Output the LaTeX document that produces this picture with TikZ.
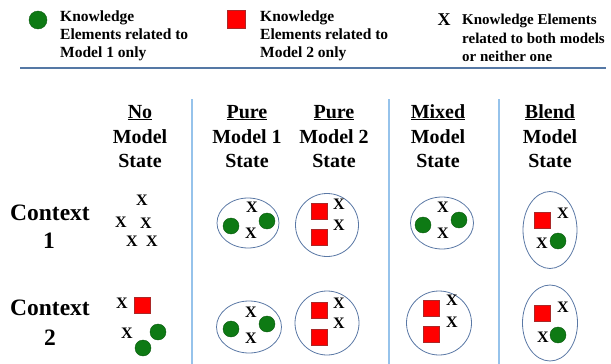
\documentclass[tikz,border=0pt]{standalone}
\usepackage{fontspec}
\setmainfont{Liberation Serif}
\usetikzlibrary{shapes.geometric}
\definecolor{kgreen}{RGB}{14,122,20}
\definecolor{kgreendk}{RGB}{10,90,15}
\definecolor{kred}{RGB}{255,0,0}
\definecolor{kreddk}{RGB}{170,40,40}
\definecolor{blobcol}{RGB}{90,120,165}
\definecolor{vline}{RGB}{150,195,235}
\definecolor{hline}{RGB}{85,120,165}
\begin{document}
\begin{tikzpicture}[x=1pt,y=-1pt,
  gdot/.style={circle,fill=kgreen,draw=kgreendk,line width=0.4pt,minimum size=16pt,inner sep=0},
  rsq/.style={rectangle,fill=kred,draw=kreddk,line width=0.4pt,minimum size=16pt,inner sep=0},
  xm/.style={font=\fontsize{16}{16}\selectfont\bfseries,inner sep=0},
  blob/.style={ellipse,draw=blobcol,line width=0.8pt,inner sep=0},
  hd/.style={font=\fontsize{20}{24}\selectfont\bfseries,anchor=base,inner sep=0},
  ctx/.style={font=\fontsize{23.5}{28}\selectfont\bfseries,anchor=base,inner sep=0},
  lg/.style={font=\fontsize{15.5}{18}\selectfont\bfseries,anchor=base west,inner sep=0},
  lgr/.style={font=\fontsize{15}{18}\selectfont\bfseries,anchor=base west,inner sep=0}]
\useasboundingbox (0,0) rectangle (611,364);

% legend
\node[gdot,minimum size=18pt] (lgc) at (38,20) {};
\node[lg] (lg1a) at (60,21.5) {Knowledge};
\node[lg] (lg1b) at (60,39.5) {Elements related to};
\node[lg] (lg1c) at (60,57.5) {Model 1 only};
\node[rsq,minimum size=18pt] (lgs) at (236,19) {};
\node[lg] (lg2a) at (260,21.5) {Knowledge};
\node[lg] (lg2b) at (260,39.5) {Elements related to};
\node[lg] (lg2c) at (260,57.5) {Model 2 only};
\node[xm,font=\fontsize{18}{18}\selectfont\bfseries] (lgx) at (444,20) {X};
\node[lgr] (lg3a) at (462,24) {Knowledge Elements};
\node[lgr] (lg3b) at (462,43) {related to both models};
\node[lgr] (lg3c) at (462,61.5) {or neither one};
\coordinate (hl1) at (20,68);
\coordinate (hl2) at (606,68);
\draw[hline,line width=1.2pt] (hl1) -- (hl2);

% vertical separators
\coordinate (v1a) at (192,99); \coordinate (v1b) at (192,364);
\coordinate (v2a) at (389,99); \coordinate (v2b) at (389,364);
\coordinate (v3a) at (499,99); \coordinate (v3b) at (499,364);
\draw[vline,line width=1.5pt] (v1a) -- (v1b);
\draw[vline,line width=1.5pt] (v2a) -- (v2b);
\draw[vline,line width=1.5pt] (v3a) -- (v3b);

% headers
\node[hd] (h1a) at (140,118) {\underline{No}};
\node[hd] (h1b) at (140,143) {Model};
\node[hd] (h1c) at (140,167.5) {State};
\node[hd] (h2a) at (247,118) {\underline{Pure}};
\node[hd] (h2b) at (247,143) {Model 1};
\node[hd] (h2c) at (247,167.5) {State};
\node[hd] (h3a) at (334,118) {\underline{Pure}};
\node[hd] (h3b) at (334,143) {Model 2};
\node[hd] (h3c) at (334,167.5) {State};
\node[hd] (h4a) at (438,118) {\underline{Mixed}};
\node[hd] (h4b) at (438,143) {Model};
\node[hd] (h4c) at (438,167.5) {State};
\node[hd] (h5a) at (550,118) {\underline{Blend}};
\node[hd] (h5b) at (550,143) {Model};
\node[hd] (h5c) at (550,167.5) {State};

% context labels
\node[ctx] (c1a) at (50,220) {Context};
\node[ctx] (c1b) at (49,248) {1};
\node[ctx] (c2a) at (50,315) {Context};
\node[ctx] (c2b) at (50,345) {2};

% row 1
\node[xm] (r1n1) at (142,200) {X};
\node[xm] (r1n2) at (121,222) {X};
\node[xm] (r1n3) at (146,223) {X};
\node[xm] (r1n4) at (132,241) {X};
\node[xm] (r1n5) at (152,241) {X};

\node[blob,minimum width=62pt,minimum height=50pt] (r1a) at (248,223) {};
\node[gdot] (r1ag1) at (231,226) {};
\node[gdot] (r1ag2) at (267,221) {};
\node[xm] (r1ax1) at (252,207) {X};
\node[xm] (r1ax2) at (251,233) {X};

\node[blob,minimum width=63pt,minimum height=63pt] (r1b) at (327,225) {};
\node[rsq] (r1bs1) at (319,211) {};
\node[rsq] (r1bs2) at (319,237) {};
\node[xm] (r1bx1) at (339,204) {X};
\node[xm] (r1bx2) at (339,225) {X};

\node[blob,minimum width=63pt,minimum height=52pt] (r1c) at (442,223) {};
\node[gdot] (r1cg1) at (423,225) {};
\node[gdot] (r1cg2) at (459,220) {};
\node[xm] (r1cx1) at (443,207) {X};
\node[xm] (r1cx2) at (443,233) {X};

\node[blob,minimum width=54pt,minimum height=77pt] (r1d) at (550,230) {};
\node[rsq] (r1ds) at (542,220) {};
\node[xm] (r1dx1) at (563,213) {X};
\node[xm] (r1dx2) at (542,243) {X};
\node[gdot] (r1dg) at (558,241) {};

% row 2
\node[xm] (r2n1) at (122,303) {X};
\node[rsq] (r2ns) at (142,305) {};
\node[xm] (r2n2) at (127,333) {X};
\node[gdot] (r2ng1) at (158,332) {};
\node[gdot] (r2ng2) at (143,348) {};

\node[blob,minimum width=65pt,minimum height=52pt] (r2a) at (249,327) {};
\node[gdot] (r2ag1) at (231,329) {};
\node[gdot] (r2ag2) at (267,324) {};
\node[xm] (r2ax1) at (251,312) {X};
\node[xm] (r2ax2) at (251,338) {X};

\node[blob,minimum width=64pt,minimum height=64pt] (r2b) at (327,323) {};
\node[rsq] (r2bs1) at (319,310) {};
\node[rsq] (r2bs2) at (319,337) {};
\node[xm] (r2bx1) at (339,303) {X};
\node[xm] (r2bx2) at (339,323) {X};

\node[blob,minimum width=65pt,minimum height=64pt] (r2c) at (439,323) {};
\node[rsq] (r2cs1) at (431,308) {};
\node[rsq] (r2cs2) at (431,334) {};
\node[xm] (r2cx1) at (452,300) {X};
\node[xm] (r2cx2) at (452,322) {X};

\node[blob,minimum width=55pt,minimum height=76pt] (r2d) at (550,323) {};
\node[rsq] (r2ds) at (542,313) {};
\node[xm] (r2dx1) at (563,307) {X};
\node[xm] (r2dx2) at (543,337) {X};
\node[gdot] (r2dg) at (558,335) {};
\end{tikzpicture}
\end{document}
